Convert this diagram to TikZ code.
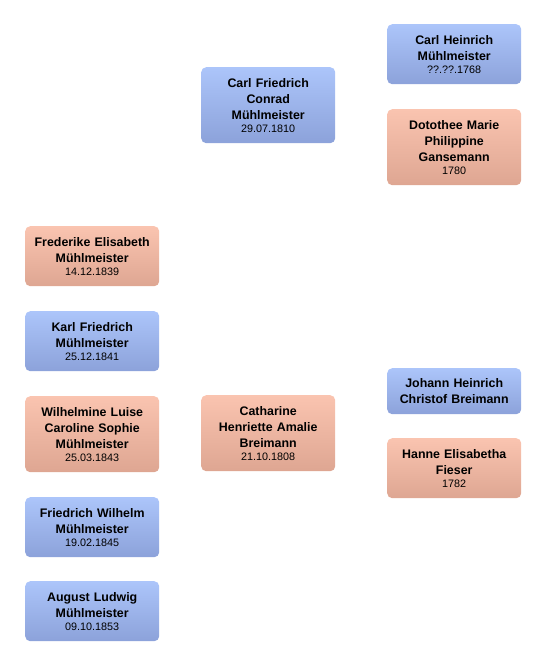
\documentclass[tikz,border=0pt]{standalone}
\usepackage{fontspec}
\setmainfont{Liberation Sans}
\usepackage{tikz}

\definecolor{maletop}{RGB}{172,197,250}
\definecolor{malebot}{RGB}{140,162,218}
\definecolor{femtop}{RGB}{250,196,176}
\definecolor{fembot}{RGB}{222,166,146}

\newcommand{\bdate}[1]{{\mdseries\fontsize{10.8}{13}\selectfont #1}}

\begin{document}
\begin{tikzpicture}[x=1pt, y=1pt,
    person/.style={anchor=north west, rounded corners=5pt, minimum width=134pt,
        text width=132pt, align=center, inner sep=1pt,
        font=\fontsize{12.4}{16}\selectfont\bfseries},
    male/.style={person, top color=maletop, bottom color=malebot},
    female/.style={person, top color=femtop, bottom color=fembot}]
    \useasboundingbox (0,0) rectangle (546,-666);

    % grandparents
    \node[male, minimum height=60pt] (chm) at (387,-24)
        {Carl Heinrich\\Mühlmeister\\[-3pt]\bdate{??.??.1768}};
    \node[female, minimum height=76pt] (dmpg) at (387,-109)
        {Dotothee Marie\\Philippine\\Gansemann\\[-3pt]\bdate{1780}};
    \node[male, minimum height=46pt] (jhcb) at (387,-368)
        {Johann Heinrich\\Christof Breimann};
    \node[female, minimum height=60pt] (hef) at (387,-438)
        {Hanne Elisabetha\\Fieser\\[-3pt]\bdate{1782}};

    % parents
    \node[male, minimum height=76pt] (cfcm) at (201,-67)
        {Carl Friedrich\\Conrad\\Mühlmeister\\[-3pt]\bdate{29.07.1810}};
    \node[female, minimum height=76pt] (chab) at (201,-395)
        {Catharine\\Henriette Amalie\\Breimann\\[-3pt]\bdate{21.10.1808}};

    % children
    \node[female, minimum height=60pt] (fem) at (25,-226)
        {Frederike Elisabeth\\Mühlmeister\\[-3pt]\bdate{14.12.1839}};
    \node[male, minimum height=60pt] (kfm) at (25,-311)
        {Karl Friedrich\\Mühlmeister\\[-3pt]\bdate{25.12.1841}};
    \node[female, minimum height=76pt] (wlcsm) at (25,-396)
        {Wilhelmine Luise\\Caroline Sophie\\Mühlmeister\\[-3pt]\bdate{25.03.1843}};
    \node[male, minimum height=60pt] (fwm) at (25,-497)
        {Friedrich Wilhelm\\Mühlmeister\\[-3pt]\bdate{19.02.1845}};
    \node[male, minimum height=60pt] (alm) at (25,-581)
        {August Ludwig\\Mühlmeister\\[-3pt]\bdate{09.10.1853}};
\end{tikzpicture}
\end{document}
